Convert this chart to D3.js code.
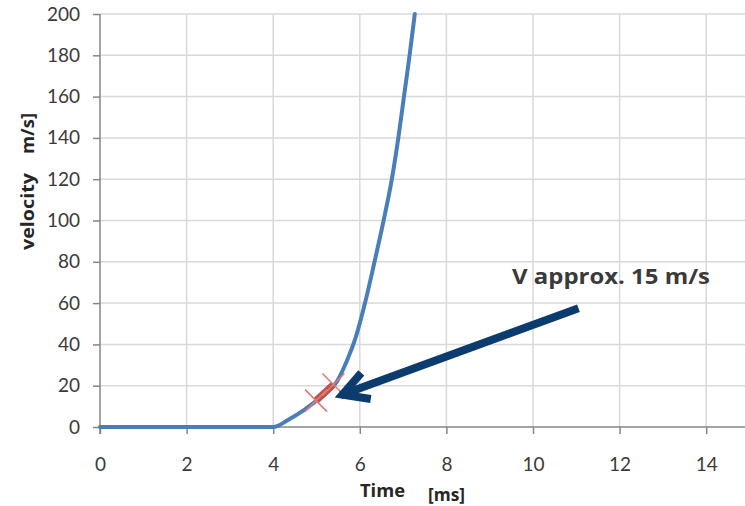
<!DOCTYPE html>
<html>
<head>
<meta charset="utf-8">
<script src="https://cdn.jsdelivr.net/npm/d3@7"></script>
<style>
  html, body { margin: 0; padding: 0; background: #fff; }
  svg { display: block; }
</style>
</head>
<body>
<svg id="chart" width="745" height="506"></svg>
<script>
// ---- data ----
const timeMs   = [0, 4.0, 4.35, 4.7, 4.97, 5.2, 5.47, 5.7, 5.9, 6.12, 6.34, 6.55, 6.74, 6.89, 7.02, 7.15, 7.27];
const velocity = [0, 0,   3.5,  8,   12.3, 16,  22,   32,  43,  60,   80,   100,  120,  140,  160,  180,  200];
const highlightT = [4.99, 5.39];         // marked interval (ms)
const highlightV = [12.8, 20.6];
const arrowFrom = [11.05, 57.5];         // [t, v]
const arrowTo   = [5.47, 14.7];
const xTicks = [0, 2, 4, 6, 8, 10, 12, 14];
const xGrid  = [2, 4, 6, 8, 10, 12, 14, 16];
const yTicks = [0, 20, 40, 60, 80, 100, 120, 140, 160, 180, 200];
const annotation = "V approx. 15 m/s";
const xTitle = "Time", xUnit = "[ms]";
const yTitle = "velocity", yUnit = "m/s]";

// ---- chart ----
const svg = d3.select("#chart");
const x = d3.scaleLinear().domain([0, 16]).range([100, 100 + 16 * 43.3]);
const y = d3.scaleLinear().domain([0, 200]).range([427, 14]);
const W = 745;
const tickFont = "Lato, 'Open Sans', sans-serif";
const labelColor = "#3a3a3a";

// gridlines
svg.append("g").selectAll("line").data(yTicks.filter(d => d > 0)).join("line")
  .attr("x1", x(0)).attr("x2", W).attr("y1", d => y(d)).attr("y2", d => y(d))
  .attr("stroke", "#d9d9d9").attr("stroke-width", 1.5);
svg.append("g").selectAll("line").data(xGrid).join("line")
  .attr("x1", d => x(d)).attr("x2", d => x(d)).attr("y1", y(200)).attr("y2", y(0))
  .attr("stroke", "#d9d9d9").attr("stroke-width", 1.5);

// axes
const xAxis = svg.append("g").attr("transform", `translate(0,${y(0)})`)
  .call(d3.axisBottom(x).tickValues(xTicks).tickSize(7).tickPadding(24).tickSizeOuter(0));
xAxis.select(".domain").attr("d", `M${x(0)},0H${W}`);
const yAxis = svg.append("g").attr("transform", `translate(${x(0)},0)`)
  .call(d3.axisLeft(y).tickValues(yTicks).tickSize(7).tickPadding(13).tickSizeOuter(0));
[xAxis, yAxis].forEach(g => {
  g.select(".domain").attr("stroke", "#868686").attr("stroke-width", 1.5);
  g.selectAll(".tick line").attr("stroke", "#868686").attr("stroke-width", 1.5);
  g.selectAll(".tick text").attr("fill", labelColor)
    .style("font-family", tickFont).style("font-size", "19px");
});
yAxis.select(".domain").attr("d", `M0,${y(200)}V${y(0) + 7}`);

// curve
const pts = timeMs.map((t, i) => [t, velocity[i]]);
const line = d3.line().x(d => x(d[0])).y(d => y(d[1])).curve(d3.curveMonotoneX);
svg.append("path").datum(pts).attr("d", line)
  .attr("fill", "none").attr("stroke", "#4a7ebb").attr("stroke-width", 4)
  .attr("stroke-linejoin", "round").attr("stroke-linecap", "round");

// highlight
const hp = highlightT.map((t, i) => [t, highlightV[i]]);
svg.append("path").datum(hp).attr("d", d3.line().x(d => x(d[0])).y(d => y(d[1])))
  .attr("fill", "none").attr("stroke", "#c0504d").attr("stroke-width", 7);
const arm = 11;
hp.forEach(d => {
  const cx = x(d[0]), cy = y(d[1]);
  svg.append("path")
    .attr("d", `M${cx - arm},${cy - arm}L${cx + arm},${cy + arm}M${cx - arm},${cy + arm}L${cx + arm},${cy - arm}`)
    .attr("stroke", "#e07b78").attr("stroke-width", 1.6).attr("fill", "none");
});

// arrow
const ax1 = x(arrowFrom[0]), ay1 = y(arrowFrom[1]);
const ax2 = x(arrowTo[0]), ay2 = y(arrowTo[1]);
const ang = Math.atan2(ay1 - ay2, ax1 - ax2);
const headLen = 34, headAng = 24 * Math.PI / 180;
const arrowColor = "#0b3c6d";
svg.append("line").attr("x1", ax1).attr("y1", ay1)
  .attr("x2", ax2 + 4 * Math.cos(ang)).attr("y2", ay2 + 4 * Math.sin(ang))
  .attr("stroke", arrowColor).attr("stroke-width", 8);
svg.append("path")
  .attr("d", `M${ax2 + headLen * Math.cos(ang - headAng)},${ay2 + headLen * Math.sin(ang - headAng)}` +
             `L${ax2 + 6 * Math.cos(ang)},${ay2 + 6 * Math.sin(ang)}` +
             `L${ax2 + headLen * Math.cos(ang + headAng)},${ay2 + headLen * Math.sin(ang + headAng)}`)
  .attr("fill", "none").attr("stroke", arrowColor).attr("stroke-width", 8)
  .attr("stroke-linejoin", "miter").attr("stroke-miterlimit", 10);

// annotation text
svg.append("text").attr("x", 512).attr("y", 283.5).text(annotation)
  .attr("fill", "#3a3a3a").style("font-family", "'Open Sans', sans-serif")
  .style("font-weight", "bold").style("font-size", "22px")
  .attr("textLength", 198).attr("lengthAdjust", "spacingAndGlyphs");

// axis titles
const titleFont = "'Open Sans', sans-serif";
svg.append("text").attr("x", 360).attr("y", 497).text(xTitle)
  .attr("fill", "#262626").style("font-family", titleFont).style("font-weight", "bold")
  .style("font-size", "18px").attr("textLength", 45).attr("lengthAdjust", "spacingAndGlyphs");
svg.append("text").attr("x", 428).attr("y", 501).text(xUnit)
  .attr("fill", "#262626").style("font-family", titleFont).style("font-weight", "bold")
  .style("font-size", "17px").attr("textLength", 37).attr("lengthAdjust", "spacingAndGlyphs");
svg.append("text").attr("transform", "translate(34,250) rotate(-90)").text(yTitle)
  .attr("fill", "#262626").style("font-family", titleFont).style("font-weight", "bold")
  .style("font-size", "18px").attr("textLength", 77).attr("lengthAdjust", "spacingAndGlyphs");
svg.append("text").attr("transform", "translate(34,154) rotate(-90)").text(yUnit)
  .attr("fill", "#262626").style("font-family", titleFont).style("font-weight", "bold")
  .style("font-size", "18px").attr("textLength", 41).attr("lengthAdjust", "spacingAndGlyphs");
</script>
</body>
</html>
